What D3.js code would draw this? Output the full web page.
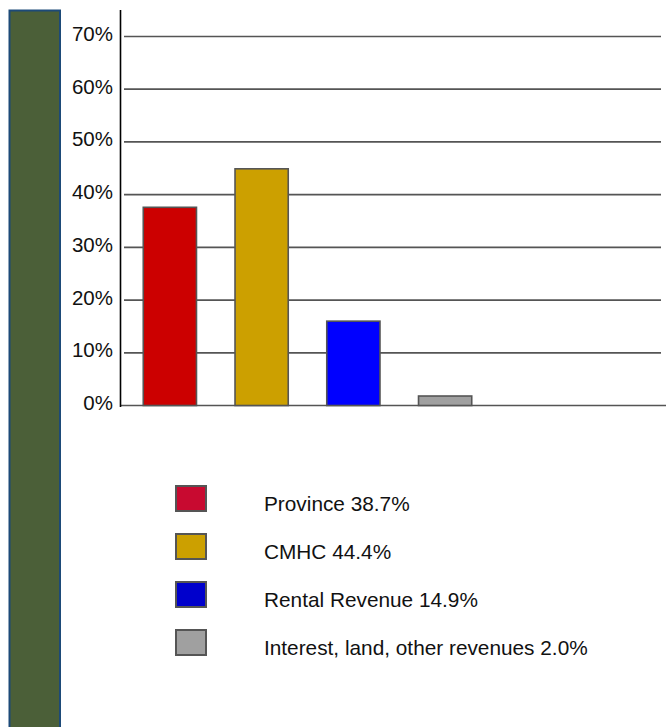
<!DOCTYPE html>
<html>
<head>
<meta charset="utf-8">
<script src="https://cdn.jsdelivr.net/npm/d3@7"></script>
<style>
  html, body { margin: 0; padding: 0; background: #fff; }
  svg { display: block; }
  text { font-family: "Liberation Sans", Arial, sans-serif; fill: #111; }
</style>
</head>
<body>
<script>
// ---- data ----
const categories = ["Province", "CMHC", "Rental Revenue", "Interest, land, other revenues"];
const values = [37.6, 44.9, 16.0, 1.8];          // bar heights as drawn (%)
const legendLabels = ["Province 38.7%", "CMHC 44.4%", "Rental Revenue 14.9%", "Interest, land, other revenues  2.0%"];
const barColors = ["#cc0000", "#cca000", "#0000ff", "#a0a0a0"];
const legendColors = ["#c80a30", "#cca000", "#0000cc", "#a0a0a0"];
const yTicks = [0, 10, 20, 30, 40, 50, 60, 70];

const W = 668, H = 727;
const svg = d3.select("body").append("svg").attr("width", W).attr("height", H);

// left decorative green bar
svg.append("rect")
  .attr("x", 9.5).attr("y", 10.5).attr("width", 50.5).attr("height", H)
  .attr("fill", "#4b5f38").attr("stroke", "#1d4a78").attr("stroke-width", 2);

const y = d3.scaleLinear().domain([0, 70]).range([405.5, 36.5]);
const x = d3.scaleBand().domain(categories).range([124, 491])
  .paddingInner(0.42).paddingOuter(0.21);

// gridlines
svg.append("g").selectAll("line").data(yTicks.filter(d => d > 0)).join("line")
  .attr("x1", 124).attr("x2", 661)
  .attr("y1", d => y(d)).attr("y2", d => y(d))
  .attr("stroke", "#555").attr("stroke-width", 1.7);

// baseline
svg.append("line")
  .attr("x1", 121).attr("x2", 666).attr("y1", y(0)).attr("y2", y(0))
  .attr("stroke", "#555").attr("stroke-width", 1.7);

// y axis line
svg.append("line")
  .attr("x1", 120.5).attr("x2", 120.5).attr("y1", 10).attr("y2", 407)
  .attr("stroke", "#000").attr("stroke-width", 1.6);

// tick labels
svg.append("g").selectAll("text").data(yTicks).join("text")
  .attr("x", 113).attr("y", d => y(d))
  .attr("dy", "0.22em")
  .attr("text-anchor", "end")
  .attr("font-size", 20.5)
  .text(d => d + "%");

// bars
svg.append("g").selectAll("rect").data(values).join("rect")
  .attr("x", (d, i) => x(categories[i]))
  .attr("y", d => y(d))
  .attr("width", x.bandwidth())
  .attr("height", d => y(0) - y(d))
  .attr("fill", (d, i) => barColors[i])
  .attr("stroke", "#555").attr("stroke-width", 1.6);

// legend
const lg = svg.append("g");
const rowY = d3.scaleLinear().domain([0, 3]).range([486, 630]);
lg.selectAll("rect").data(legendLabels).join("rect")
  .attr("x", 176).attr("y", (d, i) => rowY(i))
  .attr("width", 30).attr("height", 25)
  .attr("fill", (d, i) => legendColors[i])
  .attr("stroke", "#555").attr("stroke-width", 2);
lg.selectAll("text").data(legendLabels).join("text")
  .attr("x", 264).attr("y", (d, i) => rowY(i) + 24.5)
  .attr("font-size", 20.8)
  .text(d => d);
</script>
</body>
</html>
